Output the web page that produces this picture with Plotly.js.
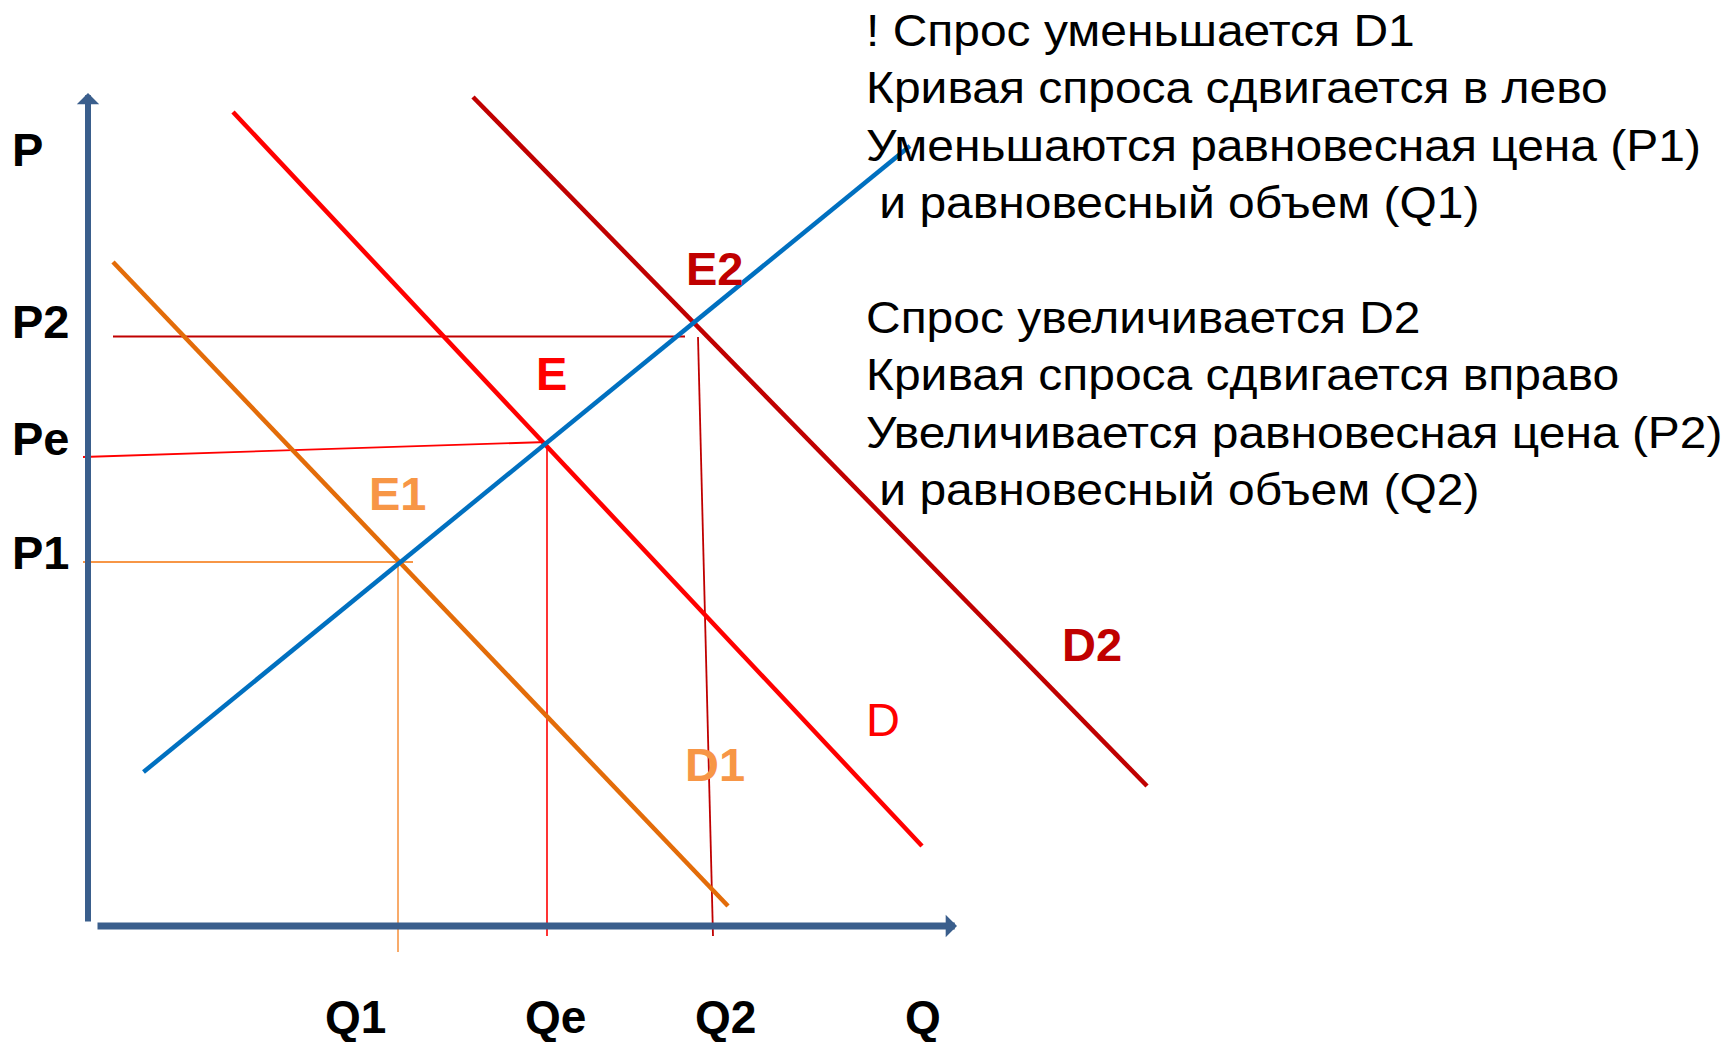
<!DOCTYPE html>
<html>
<head>
<meta charset="utf-8">
<script src="https://cdn.plot.ly/plotly-3.0.1.min.js"></script>
<style>html,body{margin:0;padding:0;background:#fff;}#chart{width:1736px;height:1042px;}</style>
</head>
<body>
<div id="chart"></div>
<script>
// ---- data (Q = quantity, P = price, arbitrary units) ----
const supplyQ = [5.55, 82.2];
const supplyP = [15.4, 78.0];
const demandQ = [14.5, 83.4];
const demandP = [81.4, 8.0];
const demand1Q = [2.5, 64.0];
const demand1P = [66.4, 2.0];
const demand2Q = [38.5, 105.9];
const demand2P = [82.9, 14.0];

// guide lines to the axes
const p2GuideQ = [2.5, 59.7];
const p2GuideP = [58.95, 58.95];
const q2GuideQ = [61.0, 62.5];
const q2GuideP = [58.9, -1.0];
const peGuideQ = [-0.5, 45.9];
const peGuideP = [46.9, 48.4];
const qeGuideQ = [45.9, 45.9];
const qeGuideP = [48.2, -1.0];
const p1GuideQ = [-0.5, 32.5];
const p1GuideP = [36.4, 36.4];
const q1GuideQ = [31.0, 31.0];
const q1GuideP = [36.4, -2.6];

// axis extents
const qAxisStart = 0.8, qAxisEnd = 86.9;
const pAxisStart = 0.3, pAxisEnd = 83.3;

// tick labels
const priceLabels = ['P', 'P2', 'Pe', 'P1'];
const priceLabelP = [77.7, 60.45, 48.8, 37.4];
const quantityLabels = ['Q1', 'Qe', 'Q2', 'Q'];
const quantityLabelQ = [26.75, 46.7, 63.7, 83.5];

// point / curve labels
const pointLabels = ['E1', 'E', 'E2'];
const pointLabelQ = [31.0, 46.37, 62.74];
const pointLabelP = [43.25, 55.28, 65.75];
const curveLabels = ['D', 'D1', 'D2'];
const curveLabelQ = [79.48, 62.7, 100.35];
const curveLabelP = [20.68, 16.19, 28.18];

// explanatory text
const noteLines = [
  '! Спрос уменьшается D1',
  'Кривая спроса сдвигается в лево',
  'Уменьшаются равновесная цена (P1)',
  ' и равновесный объем (Q1)',
  '',
  'Спрос увеличивается D2',
  'Кривая спроса сдвигается вправо',
  'Увеличивается равновесная цена (P2)',
  ' и равновесный объем (Q2)'
];

// ---- styles ----
const FONT = 'Liberation Sans, Arial, sans-serif';
const BLUE = '#0070C0', RED = '#FF0000', DARKRED = '#C00000', ORANGE = '#E36C09', LORANGE = '#F79646', AXIS = '#3A5E8C';
const NOTE_STRETCH = 1.09;

function line(x, y, color, width) {
  return {x: x, y: y, type: 'scatter', mode: 'lines', line: {color: color, width: width}, hoverinfo: 'skip'};
}

const traces = [
  line(p2GuideQ, p2GuideP, DARKRED, 1.8),
  line(q2GuideQ, q2GuideP, DARKRED, 1.8),
  line(peGuideQ, peGuideP, RED, 1.8),
  line(qeGuideQ, qeGuideP, RED, 1.6),
  line(p1GuideQ, p1GuideP, LORANGE, 2),
  line(q1GuideQ, q1GuideP, LORANGE, 1.6),
  line(demand1Q, demand1P, ORANGE, 4.5),
  line(demandQ, demandP, RED, 4.5),
  line(demand2Q, demand2P, DARKRED, 4.5),
  line(supplyQ, supplyP, BLUE, 4.5)
];

const annotations = [];
// axes with arrows
annotations.push({x: 0, y: pAxisEnd, ax: 0, ay: pAxisStart, xref: 'x', yref: 'y', axref: 'x', ayref: 'y',
  showarrow: true, arrowhead: 1, arrowsize: 0.62, arrowwidth: 6, arrowcolor: AXIS, text: ''});
annotations.push({x: qAxisEnd, y: 0, ax: qAxisStart, ay: 0, xref: 'x', yref: 'y', axref: 'x', ayref: 'y',
  showarrow: true, arrowhead: 1, arrowsize: 0.54, arrowwidth: 7, arrowcolor: AXIS, text: ''});

priceLabels.forEach((t, i) => annotations.push({x: -7.76, y: priceLabelP[i], xref: 'x', yref: 'y',
  xanchor: 'left', yanchor: 'middle', showarrow: false, text: '<b>' + t + '</b>',
  font: {family: FONT, size: 47, color: '#000'}}));
quantityLabels.forEach((t, i) => annotations.push({x: quantityLabelQ[i], y: -9.05, xref: 'x', yref: 'y',
  xanchor: 'center', yanchor: 'middle', showarrow: false, text: '<b>' + t + '</b>',
  font: {family: FONT, size: 46, color: '#000'}}));

const pointColors = [LORANGE, RED, DARKRED];
pointLabels.forEach((t, i) => annotations.push({x: pointLabelQ[i], y: pointLabelP[i], xref: 'x', yref: 'y',
  xanchor: 'center', yanchor: 'middle', showarrow: false, text: '<b>' + t + '</b>',
  font: {family: FONT, size: 47, color: pointColors[i]}}));

const curveColors = [RED, LORANGE, DARKRED];
const curveBold = [false, true, true];
curveLabels.forEach((t, i) => annotations.push({x: curveLabelQ[i], y: curveLabelP[i], xref: 'x', yref: 'y',
  xanchor: 'center', yanchor: 'middle', showarrow: false, text: curveBold[i] ? '<b>' + t + '</b>' : t,
  font: {family: FONT, size: 47, color: curveColors[i]}}));

const noteIdx = [];
const noteTop = 30.5, noteStep = 57.4;
noteLines.forEach((t, i) => {
  if (!t) return;
  noteIdx.push(annotations.length);
  annotations.push({x: 863.5 / 1736, y: 1 - (noteTop + i * noteStep) / 1042, xref: 'paper', yref: 'paper',
    xanchor: 'left', yanchor: 'middle', align: 'left', showarrow: false, text: t.replace(/^ /, '&nbsp;'),
    font: {family: FONT, size: 44, color: '#000'}});
});

const layout = {
  width: 1736, height: 1042,
  margin: {l: 0, r: 0, t: 0, b: 0},
  paper_bgcolor: '#fff', plot_bgcolor: '#fff',
  showlegend: false,
  xaxis: {range: [-8.8, 164.8], visible: false, fixedrange: true},
  yaxis: {range: [-11.6, 92.6], visible: false, fixedrange: true},
  annotations: annotations
};

Plotly.newPlot('chart', traces, layout, {displayModeBar: false, staticPlot: true}).then(function (gd) {
  // the reference text is set slightly wider than plain Arial
  noteIdx.forEach(function (idx) {
    const g = gd.querySelector('.annotation[data-index="' + idx + '"]');
    if (!g) return;
    const t = g.querySelector('text.annotation-text');
    if (!t) return;
    const len = t.getComputedTextLength();
    t.setAttribute('textLength', (len * NOTE_STRETCH).toFixed(1));
    t.setAttribute('lengthAdjust', 'spacingAndGlyphs');
  });
});
</script>
</body>
</html>
